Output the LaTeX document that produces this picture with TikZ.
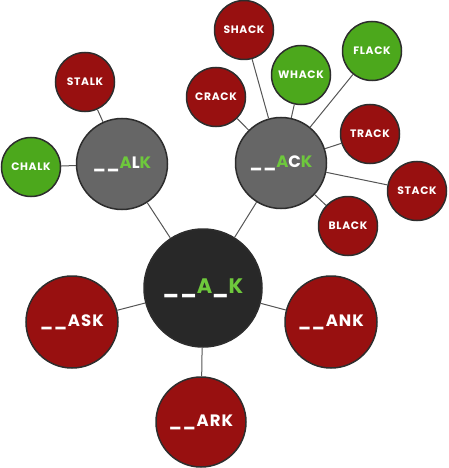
\documentclass[tikz,border=0pt]{standalone}
\usepackage{fontspec}
\setmainfont{Poppins}[LetterSpace=6]
\usetikzlibrary{positioning}
\definecolor{wordred}{RGB}{152,16,16}
\definecolor{wordgreen}{RGB}{76,168,28}
\definecolor{rootdark}{RGB}{40,40,40}
\definecolor{stemgray}{RGB}{102,102,102}
\definecolor{hitgreen}{RGB}{110,200,60}
\definecolor{rimgray}{RGB}{45,45,45}
\definecolor{linkgray}{RGB}{85,85,85}
\newcommand{\hit}[1]{\textcolor{hitgreen}{#1}}
\tikzset{
    bubble/.style = {
        circle,
        draw = rimgray,
        line width = 1.5pt,
        inner sep = 0pt,
        text = white,
        font = \bfseries,
        },
    leaf red/.style = {
        bubble,
        fill = wordred,
        minimum size = 59pt,
        font = \bfseries\fontsize{10.8}{11}\selectfont,
        },
    leaf green/.style = {
        leaf red,
        fill = wordgreen,
        },
    word red/.style = {
        bubble,
        fill = wordred,
        minimum size = 92pt,
        font = \bfseries\fontsize{16.5}{17}\selectfont,
        },
    stem node/.style = {
        bubble,
        fill = stemgray,
        minimum size = 91pt,
        font = \bfseries\fontsize{16.5}{17}\selectfont,
        },
    root node/.style = {
        bubble,
        fill = rootdark,
        minimum size = 118pt,
        font = \bfseries\fontsize{21}{22}\selectfont,
        },
    link/.style = {
        draw = linkgray,
        line width = 1pt,
        },
}

\begin{document}
\begin{tikzpicture}[x=1pt, y=-1pt]
    \useasboundingbox (0,0) rectangle (449,468);

    % centre and stems
    \node [root node] (root) at (203,288) {\_\_\hit{A}\_\hit{K}};
    \node [stem node] (alk) at (122,164) {\_\_\hit{A}L\hit{K}};
    \node [stem node] (ack) at (281,163) {\_\_\hit{A}C\hit{K}};

    % big words
    \node [word red] (ask) at (72,322) {\_\_ASK};
    \node [word red] (ank) at (331,322) {\_\_ANK};
    \node [word red, minimum size=90pt] (ark) at (201,422) {\_\_ARK};

    % words in _ _ALK
    \node [leaf red] (stalk) at (85,82) {STALK};
    \node [leaf green] (chalk) at (31,167) {CHALK};

    % words in _ _ACK
    \node [leaf red] (shack) at (244,30) {SHACK};
    \node [leaf red] (crack) at (216,97) {CRACK};
    \node [leaf green] (whack) at (301,75) {WHACK};
    \node [leaf green] (flack) at (372,51) {FLACK};
    \node [leaf red] (track) at (370,134) {TRACK};
    \node [leaf red] (stack) at (417,191) {STACK};
    \node [leaf red] (black) at (348,226) {BLACK};

    \draw [link] (root) -- (alk);
    \draw [link] (root) -- (ack);
    \draw [link] (root) -- (ask);
    \draw [link] (root) -- (ank);
    \draw [link] (root) -- (ark);
    \draw [link] (alk) -- (stalk);
    \draw [link] (alk) -- (chalk);
    \draw [link] (ack) -- (shack);
    \draw [link] (ack) -- (crack);
    \draw [link] (ack) -- (whack);
    \draw [link] (ack) -- (flack);
    \draw [link] (ack) -- (track);
    \draw [link] (ack) -- (stack);
    \draw [link] (ack) -- (black);
\end{tikzpicture}
\end{document}
